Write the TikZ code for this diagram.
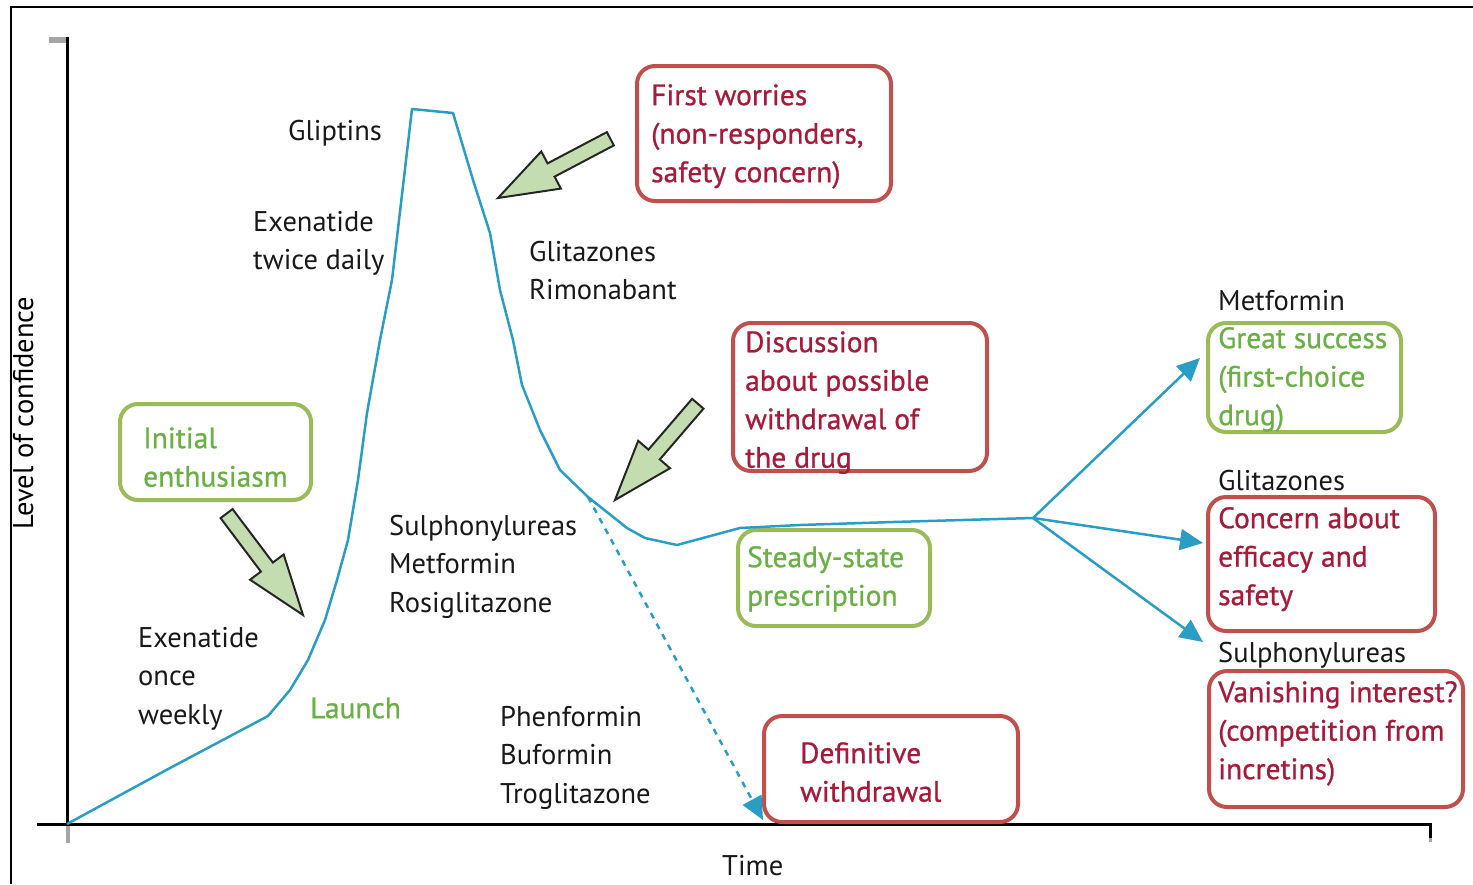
\documentclass[tikz,border=0pt]{standalone}
\usepackage{fontspec}
\setmainfont{PT Sans}
\newfontfamily\boxfont[FakeBold=0.8]{PT Sans}
\usetikzlibrary{arrows.meta}
\definecolor{redtxt}{RGB}{166,27,58}
\definecolor{redbdr}{RGB}{192,80,77}
\definecolor{grntxt}{RGB}{106,176,69}
\definecolor{grnbdr}{RGB}{155,187,89}
\definecolor{curveblue}{RGB}{42,157,196}
\definecolor{arrfill}{RGB}{196,221,176}
\newcommand\garrow[3]{%
  \begin{scope}[shift={(#1,#2)},rotate=#3]
    \filldraw[fill=arrfill,draw=black!85,line width=2pt,line join=miter]
      (0,0) -- (-60,21) -- (-60,7.5) -- (-127,7.5) -- (-127,-7.5) -- (-60,-7.5) -- (-60,-21) -- cycle;
  \end{scope}}
\begin{document}
\begin{tikzpicture}[x=1pt,y=-1pt,
  lbl/.style={anchor=north west,inner sep=0pt,align=left,font=\fontsize{28.5}{38.5}\selectfont},
  blk/.style={lbl,text=black!90},
  ctx/.style={lbl,font=\boxfont\fontsize{29.5}{38.5}\selectfont},
  rtx/.style={ctx,text=redtxt},
  gtx/.style={ctx,text=grntxt},
  rbox/.style={draw=redbdr,line width=4pt,rounded corners=18pt,inner sep=0pt},
  gbox/.style={draw=grnbdr,line width=4pt,rounded corners=18pt,inner sep=0pt},
  curve/.style={draw=curveblue,line width=2.5pt,line join=round},
  conn/.style={draw=curveblue,line width=2.5pt,-{Triangle[length=23pt,width=21pt]}},
  dconn/.style={conn,dash pattern=on 6pt off 6pt}]
\useasboundingbox (0,0) rectangle (1473,884);
% outer frame
\draw[line width=2pt] (11,884) -- (11,7) -- (1473,7);
% axes
\fill[black!35] (49,37) rectangle (67,43);
\fill[black!35] (65.5,824) rectangle (69.5,843);
\fill[black!35] (1428.5,830) rectangle (1432,842);
\draw[line width=3pt] (67,37) -- (67,825);
\draw[line width=3pt] (37,824) -- (1430,824) -- (1430,838);
\node[rotate=90,anchor=base,inner sep=0pt,font=\fontsize{28.5}{38.5}\selectfont] (ylab) at (33,413) {Level of confidence};
\node[blk] (time) at (722,848) {\strut Time};
% boxes
\node[gbox,minimum width=191pt,minimum height=96pt] (initbox) at (215.5,452) {};
\node[rbox,minimum width=254pt,minimum height=135pt] (firstbox) at (764,133.5) {};
\node[rbox,minimum width=254pt,minimum height=148pt] (discbox) at (860,397) {};
\node[gbox,minimum width=192pt,minimum height=96pt] (steadybox) at (834,578) {};
\node[rbox,minimum width=254pt,minimum height=106pt] (defbox) at (891,769) {};
\node[gbox,minimum width=193pt,minimum height=109pt] (metbox) at (1304.5,377.5) {};
\node[rbox,minimum width=227pt,minimum height=134pt] (glitbox) at (1321.5,564) {};
\node[rbox,minimum width=254pt,minimum height=136pt] (vanbox) at (1336,739) {};
% curve
\coordinate (o) at (67,824);
\coordinate (ds) at (588,497);
\coordinate (br) at (1033,518);
\draw[curve] (o) -- (170,768) -- (268,716) -- (290,690) -- (308,660) -- (325,620) -- (337,580) -- (348,540) -- (358,480) -- (367,413) -- (380,340) -- (392,280) -- (412,109) -- (453,113) -- (473,180) -- (490,233) -- (500,290) -- (513,340) -- (522,385) -- (540,430) -- (560,470) -- (ds) -- (627,528) -- (645,538) -- (677,545) -- (740,528) -- (800,525) -- (893,522) -- (br);
\coordinate (dt) at (763,820);
\coordinate (tm) at (1200,358);
\coordinate (tg) at (1203,543);
\coordinate (ts) at (1203,642);
\draw[dconn] (ds) -- (dt);
\draw[conn] (br) -- (tm);
\draw[conn] (br) -- (tg);
\draw[conn] (br) -- (ts);
% green block arrows
\garrow{303}{615}{-53}
\garrow{498}{198}{-152.2}
\garrow{615}{500}{-130.7}
% black labels
\node[blk] (gliptins) at (288,113) {\strut Gliptins};
\node[blk] (exentwice) at (253,204) {\strut Exenatide\\twice daily};
\node[blk] (glitrim) at (529,234) {\strut Glitazones\\Rimonabant};
\node[blk] (sulmet) at (389,508) {\strut Sulphonylureas\\Metformin\\Rosiglitazone};
\node[blk] (exenonce) at (138,620) {\strut Exenatide\\once\\weekly};
\node[gtx] (launch) at (310,691) {\strut Launch};
\node[blk] (phen) at (500,699) {\strut Phenformin\\Buformin\\Troglitazone};
% box texts
\node[gtx] (inittxt) at (143,421) {\strut Initial\\enthusiasm};
\node[rtx] (firsttxt) at (651,78) {\strut First worries\\(non-responders,\\safety concern)};
\node[rtx] (disctxt) at (745,325) {\strut Discussion\\about possible\\withdrawal of\\the drug};
\node[gtx] (steadytxt) at (747,540) {\strut Steady-state\\prescription};
\node[rtx] (deftxt) at (800,736) {\strut Definitive\\withdrawal};
\node[blk] (metlab) at (1218,283) {\strut Metformin};
\node[gtx] (mettxt) at (1218,321) {\strut Great success\\(first-choice\\drug)};
\node[blk] (glitlab) at (1218,463) {\strut Glitazones};
\node[rtx] (glittxt) at (1218,501) {\strut Concern about\\efficacy and\\safety};
\node[blk] (sullab) at (1218,635) {\strut Sulphonylureas};
\node[rtx] (vantxt) at (1218,675) {\strut Vanishing interest?\\(competition from\\incretins)};
\end{tikzpicture}
\end{document}
